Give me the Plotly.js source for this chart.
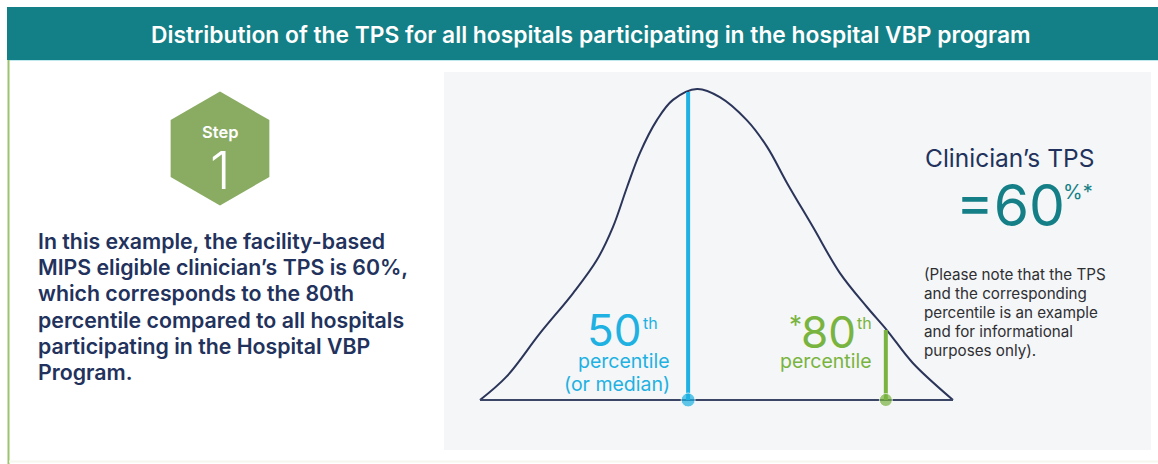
<!DOCTYPE html>
<html>
<head>
<meta charset="utf-8">
<script src="https://cdn.plot.ly/plotly-3.0.1.min.js"></script>
<style>
html,body{margin:0;padding:0;background:#ffffff;}
#chart{width:1158px;height:464px;}
</style>
</head>
<body>
<div id="chart"></div>
<script>
// ---- data ----
// bell curve of TPS distribution (x: relative score position 0-100, y: relative density 0-1)
var curveX = [0, 5.6, 12.7, 19.7, 24.7, 28.1, 31.1, 33.8, 37.4, 40.8, 45.9, 50.7, 56.4, 60.7, 64.9, 70.4, 76.1, 81.8, 86.0, 91.5, 100];
var curveY = [0, 0.075, 0.215, 0.344, 0.45, 0.556, 0.685, 0.794, 0.900, 0.965, 1.0, 0.974, 0.900, 0.814, 0.698, 0.556, 0.408, 0.299, 0.225, 0.119, 0];
var baseX = [0, 100];
var baseY = [0, 0];
var percentileNames = ["50th", "80th"];
var percentileX = [44.0, 85.8];
var percentileTop = [0.99, 0.225];
var percentileColors = ["#1eb1e2", "#79b440"];

var headerText = "Distribution of the TPS for all hospitals participating in the hospital VBP program";
var stepLabel = "Step";
var stepNumber = "1";
var bodyLines = [
  "In this example, the facility-based",
  "MIPS eligible clinician\u2019s TPS is 60%,",
  "which corresponds to the 80th",
  "percentile compared to all hospitals",
  "participating in the Hospital VBP",
  "Program."
];
var noteLines = [
  "(Please note that the TPS",
  "and the corresponding",
  "percentile is an example",
  "and for informational",
  "purposes only)."
];
var tpsTitle = "Clinician\u2019s TPS";
var tpsValue = "=60";
var tpsSuffix = "%*";

// ---- page geometry helpers (pixels -> paper) ----
var W = 1158, H = 464;
function px(x){ return x / W; }
function py(y){ return 1 - y / H; }

var FONT = "Inter, 'Open Sans', sans-serif";
var NAVY = "#22325c";
var TEAL = "#147f86";

var traces = [];
traces.push({
  x: curveX, y: curveY, type: "scatter", mode: "lines",
  line: {color: "#2b3459", width: 2, shape: "spline", smoothing: 1.0},
  hoverinfo: "skip", showlegend: false
});
traces.push({
  x: baseX, y: baseY, type: "scatter", mode: "lines",
  line: {color: "#3b4566", width: 2},
  hoverinfo: "skip", showlegend: false
});
for (var i = 0; i < percentileX.length; i++) {
  traces.push({
    x: [percentileX[i], percentileX[i]], y: [0, percentileTop[i]],
    type: "scatter", mode: "lines",
    line: {color: percentileColors[i], width: 4},
    name: percentileNames[i], hoverinfo: "skip", showlegend: false
  });
}
traces.push({
  x: percentileX, y: [0, 0], type: "scatter", mode: "markers",
  marker: {color: percentileColors, size: [14, 13]},
  cliponaxis: false, hoverinfo: "skip", showlegend: false
});

// hexagon path (pointy-top)
var hcx = 220, hcy = 148.5, hr = 57;
var hexPath = "";
for (var k = 0; k < 6; k++) {
  var a = Math.PI / 180 * (60 * k - 90);
  var vx = hcx + hr * Math.cos(a), vy = hcy + hr * Math.sin(a);
  hexPath += (k === 0 ? "M" : "L") + px(vx).toFixed(5) + "," + py(vy).toFixed(5);
}
hexPath += "Z";

var shapes = [
  {type: "rect", xref: "paper", yref: "paper", x0: px(7), x1: px(1158), y0: py(60), y1: py(7),
   fillcolor: "#137f86", line: {width: 0}, layer: "below"},
  {type: "line", xref: "paper", yref: "paper", x0: px(9), x1: px(1158), y0: py(60.5), y1: py(60.5),
   line: {color: "#bfe9ec", width: 1}, layer: "below"},
  {type: "line", xref: "paper", yref: "paper", x0: px(8.5), x1: px(8.5), y0: py(60), y1: py(464),
   line: {color: "#9cc46e", width: 2}, layer: "below"},
  {type: "line", xref: "paper", yref: "paper", x0: px(9), x1: px(1158), y0: py(461.5), y1: py(461.5),
   line: {color: "#f6f8ee", width: 2}, layer: "below"},
  {type: "rect", xref: "paper", yref: "paper", x0: px(444), x1: px(1151), y0: py(450), y1: py(72),
   fillcolor: "#f4f6f7", line: {width: 0}, layer: "below"},
  {type: "path", xref: "paper", yref: "paper", path: hexPath,
   fillcolor: "#89ab62", line: {width: 0}, layer: "below"}
];

function ann(text, x, y, size, color, xanchor, weight) {
  var f = {family: FONT, size: size, color: color};
  if (weight) f.weight = weight;
  return {text: text, xref: "paper", yref: "paper", x: px(x), y: py(y),
    xanchor: xanchor || "left", yanchor: "middle", showarrow: false,
    borderpad: 0, font: f};
}

var BLUE = "#1eb1e2", GREEN = "#79b440";
var annotations = [];
annotations.push(ann(headerText, 591, 34, 22.8, "#ffffff", "center", 600));
annotations.push(ann(stepLabel, 220, 132, 16.5, "#ffffff", "center", 600));
annotations.push(ann(stepNumber, 220, 170, 52, "#ffffff", "center", 300));
for (var j = 0; j < bodyLines.length; j++) {
  annotations.push(ann(bodyLines[j], 37, 241 + j * 26.2, 21.3, NAVY, "left", 600));
}
// 50th percentile label
annotations.push(ann("50", 643, 330, 44, BLUE, "right", 400));
annotations.push(ann("th", 642, 323, 16, BLUE, "left", 400));
annotations.push(ann("percentile", 671, 361, 19.5, BLUE, "right"));
annotations.push(ann("(or median)", 671, 384, 19.5, BLUE, "right"));
// 80th percentile label
annotations.push(ann("*", 803, 324, 26, GREEN, "right", 400));
annotations.push(ann("80", 857, 332, 44, GREEN, "right", 400));
annotations.push(ann("th", 856, 323, 16, GREEN, "left", 400));
annotations.push(ann("percentile", 873, 361, 19.5, GREEN, "right"));
// clinician TPS
annotations.push(ann(tpsTitle, 924, 158, 24.5, NAVY, "left"));
annotations.push(ann(tpsValue, 955, 205, 57, TEAL, "left", 400));
annotations.push(ann(tpsSuffix, 1062, 192, 20, TEAL, "left"));
for (var n = 0; n < noteLines.length; n++) {
  annotations.push(ann(noteLines[n], 923, 274 + n * 19.2, 15.2, "#2f2f33", "left"));
}

// axes: map the curve area (pixels 460..973 x, 80..410 y)
var xr0 = (460 - 480) / 473 * 100, xr1 = (973 - 480) / 473 * 100;
var yr0 = (400 - 410) / 311, yr1 = (400 - 80) / 311;

var layout = {
  width: W, height: H,
  margin: {l: 0, r: 0, t: 0, b: 0, pad: 0},
  paper_bgcolor: "#ffffff", plot_bgcolor: "rgba(0,0,0,0)",
  showlegend: false,
  xaxis: {domain: [px(460), px(973)], range: [xr0, xr1], visible: false, fixedrange: true},
  yaxis: {domain: [py(410), py(80)], range: [yr0, yr1], visible: false, fixedrange: true},
  shapes: shapes,
  annotations: annotations,
  hovermode: false
};

Plotly.newPlot("chart", traces, layout, {displayModeBar: false, staticPlot: true});
</script>
</body>
</html>
